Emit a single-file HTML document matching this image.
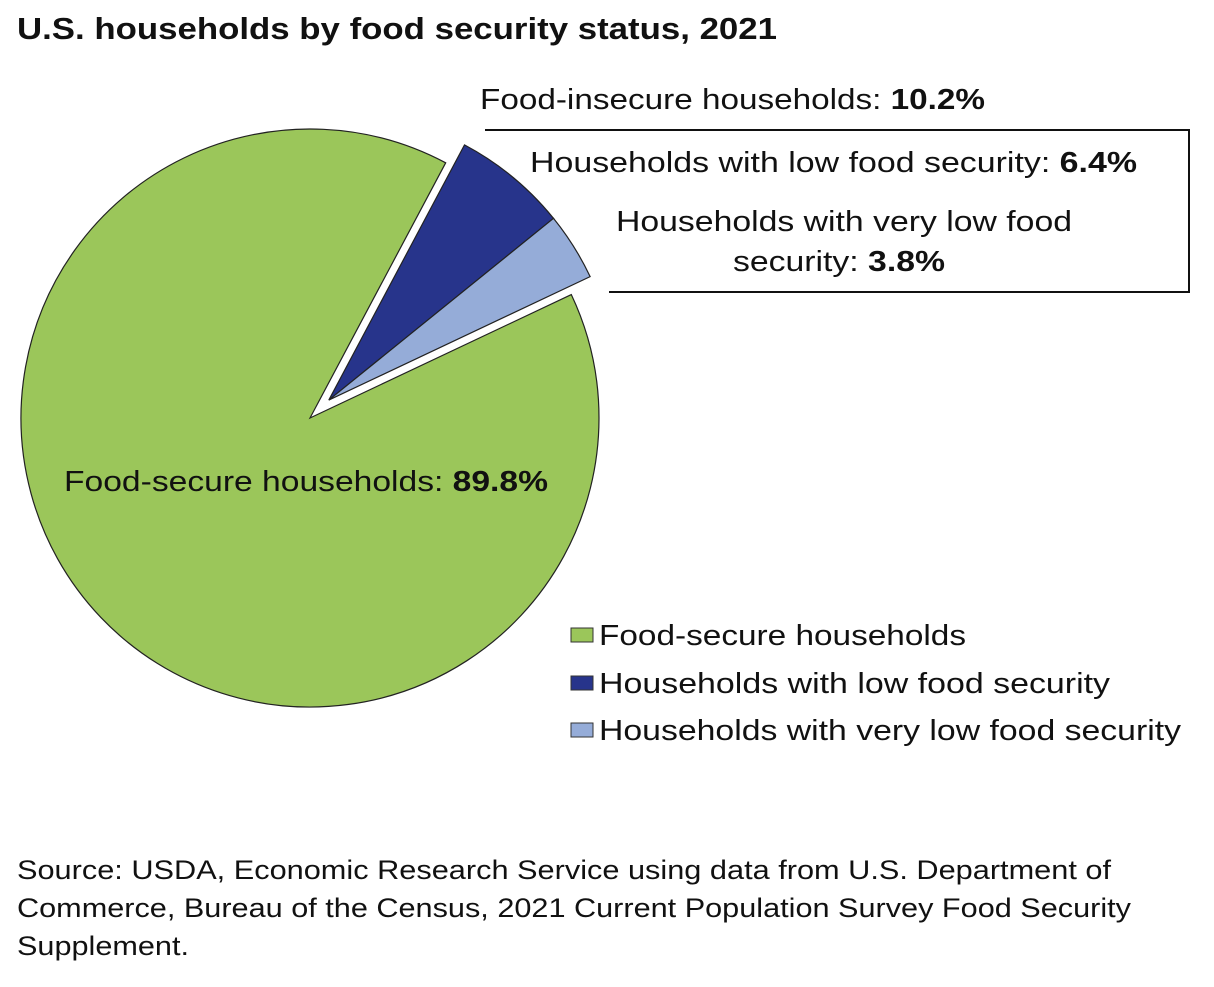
<!DOCTYPE html>
<html><head><meta charset="utf-8"><style>
html,body{margin:0;padding:0;background:#fff;}
svg{display:block;font-family:"Liberation Sans",sans-serif;}
</style></head><body>
<svg width="1214" height="987" viewBox="0 0 1214 987">
<text x="17" y="39" font-size="31" font-weight="bold" fill="#111" textLength="760" lengthAdjust="spacingAndGlyphs">U.S. households by food security status, 2021</text>
<g id="pie"></g>
<polyline points="485,130 1189,130 1189,292 609,292" fill="none" stroke="#111" stroke-width="2"/>
<text x="480" y="109" font-size="29" fill="#111" textLength="505" lengthAdjust="spacingAndGlyphs">Food-insecure households: <tspan font-weight="bold">10.2%</tspan></text>
<text x="530" y="172" font-size="29" fill="#111" textLength="607" lengthAdjust="spacingAndGlyphs">Households with low food security: <tspan font-weight="bold">6.4%</tspan></text>
<text x="616" y="231" font-size="29" fill="#111" textLength="456" lengthAdjust="spacingAndGlyphs">Households with very low food</text>
<text x="733" y="271" font-size="29" fill="#111" textLength="212" lengthAdjust="spacingAndGlyphs">security: <tspan font-weight="bold">3.8%</tspan></text>
<text x="64" y="491" font-size="29" fill="#111" textLength="484" lengthAdjust="spacingAndGlyphs">Food-secure households: <tspan font-weight="bold">89.8%</tspan></text>
<g>
<rect x="571" y="628" width="22" height="14" fill="#9bc65a" stroke="#333" stroke-width="1"/>
<text x="599" y="645" font-size="29" fill="#111" textLength="367" lengthAdjust="spacingAndGlyphs">Food-secure households</text>
<rect x="571" y="676" width="22" height="14" fill="#27348b" stroke="#333" stroke-width="1"/>
<text x="599" y="693" font-size="29" fill="#111" textLength="511" lengthAdjust="spacingAndGlyphs">Households with low food security</text>
<rect x="571" y="723" width="22" height="14" fill="#95acd8" stroke="#333" stroke-width="1"/>
<text x="599" y="740" font-size="29" fill="#111" textLength="582" lengthAdjust="spacingAndGlyphs">Households with very low food security</text>
</g>
<g font-size="27" fill="#111">
<text x="17" y="879" textLength="1094" lengthAdjust="spacingAndGlyphs">Source: USDA, Economic Research Service using data from U.S. Department of</text>
<text x="17" y="917" textLength="1114" lengthAdjust="spacingAndGlyphs">Commerce, Bureau of the Census, 2021 Current Population Survey Food Security</text>
<text x="17" y="955" textLength="172" lengthAdjust="spacingAndGlyphs">Supplement.</text>
</g>
</svg>
<script>
const categories = ["Households with low food security","Households with very low food security","Food-secure households"];
const values = [6.4, 3.8, 89.8];
const exploded = [true, true, false];
const colors = ["#27348b","#95acd8","#9bc65a"];
const startDeg = 28;
const cx = 310, cy = 418, r = 289, explodeDist = 26;
const total = values.reduce((a,b)=>a+b,0);
function pt(deg, rad, ox, oy){const a=deg*Math.PI/180;return [ox+rad*Math.sin(a), oy-rad*Math.cos(a)];}
const g = document.getElementById('pie');
// explode group direction: middle of exploded slices
let expSum = 0; values.forEach((v,i)=>{if(exploded[i]) expSum+=v;});
const expMid = startDeg + (expSum/total*360)/2;
const [ex, ey] = pt(expMid, explodeDist, 0, 0);
let a0 = startDeg;
values.forEach((v,i)=>{
  const sweep = v/total*360;
  const a1 = a0 + sweep;
  const ox = cx + (exploded[i]?ex:0), oy = cy + (exploded[i]?ey:0);
  const p0 = pt(a0, r, ox, oy), p1 = pt(a1, r, ox, oy);
  const large = sweep > 180 ? 1 : 0;
  const p = document.createElementNS('http://www.w3.org/2000/svg','path');
  p.setAttribute('d', `M${ox},${oy} L${p0[0]},${p0[1]} A${r},${r} 0 ${large} 1 ${p1[0]},${p1[1]} Z`);
  p.setAttribute('fill', colors[i]);
  p.setAttribute('stroke', '#222');
  p.setAttribute('stroke-width', '1.2');
  
  
  g.appendChild(p);
  a0 = a1;
});
</script>
</body></html>
